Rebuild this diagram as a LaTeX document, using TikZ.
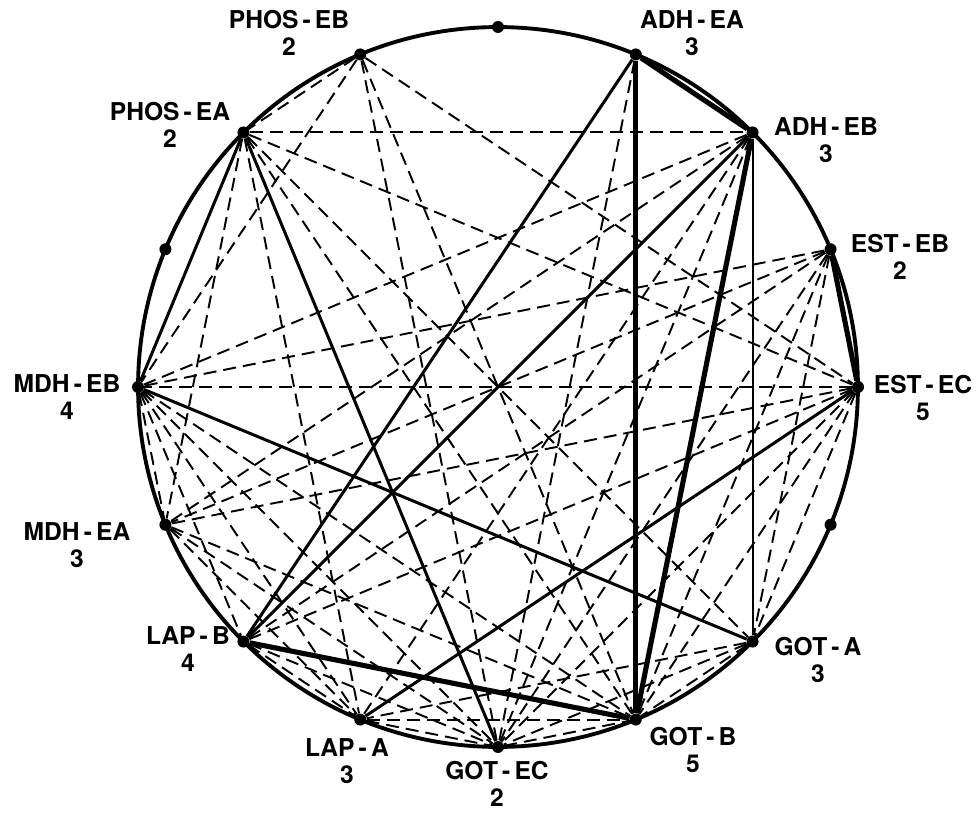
\documentclass[tikz,border=0pt]{standalone}
\usepackage{fontspec}
\setmainfont{TeX Gyre Heros}
\usetikzlibrary{positioning}

\begin{document}
\begin{tikzpicture}[
        x=0.02cm, y=-0.02cm,
        locus/.style={circle, fill=black, inner sep=0pt, minimum size=2.4mm},
        lbl/.style={font=\bfseries\fontsize{14}{15.5}\selectfont, align=center},
        rim/.style={line width=2.2pt},
        link/.style={line width=1.1pt, dash pattern=on 2.6mm off 1.4mm},
        weak/.style={line width=1.1pt},
        sig/.style={line width=1.7pt},
        strong/.style={line width=2.9pt}
    ]
        \useasboundingbox (0,0) rectangle (978,814);

        % Ring
        \coordinate (hub) at (498,387);
        \draw[rim] (hub) circle [radius=7.2cm];

        % Loci on the ring
        \foreach \name/\k in {top/0, adhea/1, adheb/2, esteb/3, estec/4, dotr/5,
                gota/6, gotb/7, gotec/8, lapa/9, lapb/10, mdhea/11, mdheb/12,
                dotl/13, phosea/14, phoseb/15}
            \node[locus] (\name) at ({498+360*cos(90-22.5*\k)}, {387-360*sin(90-22.5*\k)}) {};

        % Labels
        \node[lbl] (adhea-l) at (692,33) {ADH\,-\,EA\\3};
        \node[lbl] (adheb-l) at (826,140) {ADH\,-\,EB\\3};
        \node[lbl] (esteb-l) at (900,257) {EST\,-\,EB\\2};
        \node[lbl] (estec-l) at (923,398) {EST\,-\,EC\\5};
        \node[lbl] (gota-l) at (818,660) {GOT\,-\,A\\3};
        \node[lbl] (gotb-l) at (693,750) {GOT\,-\,B\\5};
        \node[lbl] (gotec-l) at (497,784) {GOT\,-\,EC\\2};
        \node[lbl] (lapa-l) at (347,761) {LAP\,-\,A\\3};
        \node[lbl] (lapb-l) at (188,649) {LAP\,-\,B\\4};
        \node[lbl] (mdhea-l) at (77,545) {MDH\,-\,EA\\3};
        \node[lbl] (mdheb-l) at (67,397) {MDH\,-\,EB\\4};
        \node[lbl] (phosea-l) at (170,125) {PHOS\,-\,EA\\2};
        \node[lbl] (phoseb-l) at (289,33) {PHOS\,-\,EB\\2};

        % Dashed links
        \foreach \a/\b in {phoseb/phosea, phoseb/mdheb, phoseb/gotec, phoseb/gotb, phoseb/estec,
                phosea/mdhea, phosea/lapa, phosea/gotb, phosea/gota, phosea/estec, phosea/adheb,
                adhea/gotec,
                adheb/mdheb, adheb/mdhea, adheb/lapa, adheb/gotec,
                esteb/mdheb, esteb/mdhea, esteb/lapb, esteb/gotec, esteb/gotb, esteb/gota,
                estec/mdheb, estec/mdhea, estec/lapb, estec/gotec, estec/gotb, estec/gota,
                mdheb/gotb, mdheb/gotec, mdheb/lapa, mdheb/lapb, mdheb/mdhea,
                mdhea/gotb, mdhea/lapa, mdhea/gotec,
                lapb/lapa, lapb/gotec, lapa/gotec, lapa/gotb, gotec/gotb,
                gota/gotb, gota/lapa, gota/gotec}
            \draw[link] (\a) -- (\b);

        % Solid links
        \foreach \a/\b in {phosea/mdheb, phosea/gotec, mdheb/gota, adhea/lapb, adheb/lapb, estec/lapa}
            \draw[sig] (\a) -- (\b);
        \draw[weak] (adheb) -- (gota);
        \foreach \a/\b in {adhea/adheb, adhea/gotb, adheb/gotb, lapb/gotb, esteb/estec}
            \draw[strong] (\a) -- (\b);
\end{tikzpicture}
\end{document}
